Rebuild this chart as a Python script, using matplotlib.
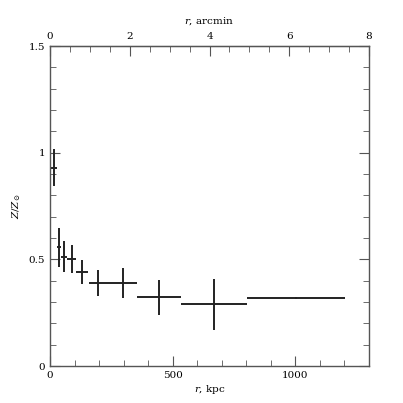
import numpy as np
import matplotlib.pyplot as plt
from matplotlib.ticker import MultipleLocator, FixedLocator

# metallicity profile, radial bins in kpc
r_kpc = [15, 38, 58, 88, 131, 197, 296, 445, 669, 1003]
r_err = [12, 8, 12, 18, 25, 40, 59, 89, 134, 200]
z_val = [0.93, 0.556, 0.512, 0.50, 0.44, 0.388, 0.39, 0.323, 0.289, 0.32]
z_err = [0.085, 0.09, 0.072, 0.066, 0.056, 0.06, 0.07, 0.082, 0.12, 0.004]

kpc_per_arcmin = 1300 / 8.0

plt.rcParams['font.family'] = 'DejaVu Serif'
plt.rcParams['mathtext.fontset'] = 'dejavuserif'

fig = plt.figure(figsize=(4.03, 4.03), dpi=100)
ax = fig.add_axes([50 / 403, 37 / 403, 319 / 403, 320 / 403])

ax.errorbar(r_kpc, z_val, xerr=r_err, yerr=z_err, fmt='none',
            ecolor='#222222', elinewidth=1.4, capsize=0)

ax.set_xlim(0, 1300)
ax.set_ylim(0, 1.5)

ax.xaxis.set_major_locator(MultipleLocator(500))
ax.xaxis.set_minor_locator(MultipleLocator(100))
ax.yaxis.set_minor_locator(MultipleLocator(0.1))
ax.set_yticks([0, 0.5, 1, 1.5])
ax.set_yticklabels(['0', '0.5', '1', '1.5'])

ax.tick_params(which='both', direction='in', color='#555555', labelsize=7.5,
               right=True, top=False)
ax.tick_params(which='major', length=7)
ax.tick_params(which='minor', length=4)
for s in ax.spines.values():
    s.set_color('#555555')
    s.set_linewidth(1.0)

ax.set_xlabel(r'$r$, kpc', fontsize=7.5, labelpad=2)
ax.set_ylabel(r'$Z/Z_{\odot}$', fontsize=7.5, labelpad=4)

# top axis in arcmin
top = ax.secondary_xaxis('top', functions=(lambda x: x / kpc_per_arcmin,
                                           lambda a: a * kpc_per_arcmin))
top.xaxis.set_major_locator(FixedLocator([0, 2, 4, 6, 8]))
top.xaxis.set_minor_locator(FixedLocator(np.arange(0.5, 8, 0.5)))
top.tick_params(which='both', direction='in', color='#555555', labelsize=7.5)
top.tick_params(which='major', length=7)
top.tick_params(which='minor', length=4)
top.set_xlabel(r'$r$, arcmin', fontsize=7.5, labelpad=6)

fig.savefig('out.png', dpi=100)
